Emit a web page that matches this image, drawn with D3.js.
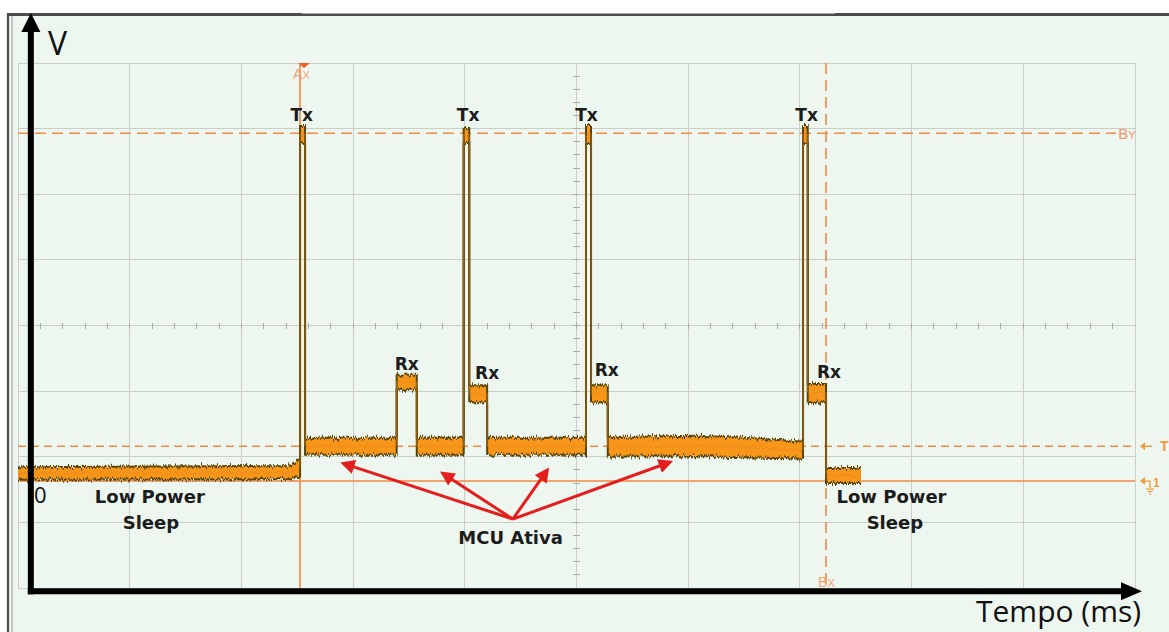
<!DOCTYPE html>
<html><head><meta charset="utf-8">
<script src="https://cdn.jsdelivr.net/npm/d3@7"></script>
<style>html,body{margin:0;padding:0;background:#fff;overflow:hidden}</style>
</head><body><svg id="c" width="1169" height="632"></svg>
<script>
// ---------- data (time in screen divisions, voltage in screen divisions) ----------
const timeDivs = [0,1,2,3,4,5,6,7,8,9,10];
const voltDivs = [-4,-3,-2,-1,0,1,2,3,4];
// measured trace envelope (upper / lower edge of the noisy band)
const traceTime = [0, 2.44, 2.52, 2.525, 2.525, 2.57, 2.57, 3.39, 3.39, 3.57, 3.57, 3.99, 3.99, 4.04, 4.04, 4.20, 4.20, 5.085, 5.085, 5.13, 5.13, 5.28, 5.28, 6.10, 6.60, 7.028, 7.028, 7.07, 7.07, 7.234, 7.234, 7.547];
const traceHigh = [-2.16, -2.14, -2.05, -2.05, 3.04, 3.04, -1.71, -1.71, -0.75, -0.75, -1.71, -1.71, 3.01, 3.01, -0.91, -0.91, -1.71, -1.71, 3.04, 3.04, -0.91, -0.91, -1.70, -1.68, -1.72, -1.77, 3.04, 3.04, -0.89, -0.89, -2.17, -2.17];
const traceLow  = [-2.35, -2.34, -2.30, -2.30, 2.78, 2.78, -1.97, -1.97, -0.98, -0.98, -1.97, -1.97, 2.78, 2.78, -1.17, -1.17, -1.97, -1.97, 2.78, 2.78, -1.17, -1.17, -2.00, -1.99, -2.01, -2.03, 2.78, 2.78, -1.17, -1.17, -2.40, -2.40];
// cursors
const cursorAx = 2.525, cursorBx = 7.234, cursorBy = 2.93, triggerLevel = -1.84, groundLevel = -2.37;
// labels
const txNames = ["Tx","Tx","Tx","Tx"];
const txTime  = [2.54, 4.03, 5.09, 7.06];
const txVolt  = [3.115, 3.115, 3.115, 3.115];
const rxNames = ["Rx","Rx","Rx","Rx"];
const rxTime  = [3.48, 4.20, 5.27, 7.26];
const rxVolt  = [-0.68, -0.815, -0.77, -0.80];
const stateNames = ["Low Power", "Sleep", "Low Power", "Sleep", "MCU Ativa"];
const stateTime  = [1.18, 1.19, 7.82, 7.85, 4.41];
const stateVolt  = [-2.705, -3.10, -2.705, -3.10, -3.33];
// arrows from "MCU Ativa" to the active segments
const arrowFrom = [4.43, -2.95];
const arrowToTime = [2.91, 3.80, 4.74, 5.84];
const arrowToVolt = [-2.10, -2.25, -2.20, -2.08];

// ---------- drawing ----------
const W = 1169, H = 632;
const svg = d3.select('#c');
const x = d3.scaleLinear().domain([0, 10]).range([18, 1135]);
const y = d3.scaleLinear().domain([-4, 4]).range([588, 63]);

const defs = svg.append('defs');
const f = defs.append('filter').attr('id','jag').attr('filterUnits','userSpaceOnUse')
  .attr('x',0).attr('y',0).attr('width',W).attr('height',H).attr('color-interpolation-filters','sRGB');
f.append('feTurbulence').attr('type','fractalNoise').attr('baseFrequency','0.8 0.06').attr('numOctaves',2).attr('seed',7).attr('result','turb');
const ct = f.append('feComponentTransfer').attr('in','turb').attr('result','map');
ct.append('feFuncR').attr('type','linear').attr('slope',0).attr('intercept',0.5);
ct.append('feFuncA').attr('type','linear').attr('slope',0).attr('intercept',1);
f.append('feDisplacementMap').attr('in','SourceGraphic').attr('in2','map').attr('scale',8)
  .attr('xChannelSelector','R').attr('yChannelSelector','G');

defs.append('marker').attr('id','redhead').attr('viewBox','0 0 10 10').attr('refX',8).attr('refY',5)
  .attr('markerWidth',5.5).attr('markerHeight',4.8).attr('orient','auto').attr('markerUnits','strokeWidth')
  .append('path').attr('d','M0,0 L10,5 L0,10 z').attr('fill','#E41E1E');

// background & frame
svg.append('rect').attr('width',W).attr('height',H).attr('fill','#fff');
svg.append('rect').attr('x',8).attr('y',15).attr('width',W-8).attr('height',H-15).attr('fill','#EDF6EF');
svg.append('line').attr('x1',7).attr('x2',W).attr('y1',14.5).attr('y2',14.5).attr('stroke','#4d4d4d').attr('stroke-width',3);
svg.append('line').attr('x1',302).attr('x2',835).attr('y1',13.5).attr('y2',13.5).attr('stroke','#a9a9a9').attr('stroke-width',1.2);
svg.append('line').attr('x1',8).attr('x2',8).attr('y1',13).attr('y2',H).attr('stroke','#4d4d4d').attr('stroke-width',2.2);
svg.append('line').attr('x1',12).attr('x2',12).attr('y1',16).attr('y2',H).attr('stroke','#9a9a9a').attr('stroke-width',1);

// graticule
const grid = svg.append('g').attr('stroke','#C9CEC9').attr('stroke-width',1).attr('shape-rendering','crispEdges');
grid.selectAll('.gv').data(timeDivs).join('line').attr('class','gv')
  .attr('x1',d=>x(d)).attr('x2',d=>x(d)).attr('y1',y(4)).attr('y2',y(-4));
grid.selectAll('.gh').data(voltDivs).join('line').attr('class','gh')
  .attr('x1',x(0)).attr('x2',x(10)).attr('y1',d=>y(d)).attr('y2',d=>y(d));
const minorT = d3.range(1, 50).map(i => i / 5);
const minorV = d3.range(-19, 20).map(i => i / 5);
grid.selectAll('.mt').data(minorT).join('line').attr('class','mt')
  .attr('x1',d=>x(d)).attr('x2',d=>x(d)).attr('y1',y(0)-2.5).attr('y2',y(0)+3).attr('stroke','#A8ADA9');
grid.selectAll('.mv').data(minorV).join('line').attr('class','mv')
  .attr('x1',x(5)-3.5).attr('x2',x(5)+3.5).attr('y1',d=>y(d)).attr('y2',d=>y(d)).attr('stroke','#A8ADA9');

// cursors
const cur = '#EE8A45';
const cg = svg.append('g').attr('fill','none');
cg.append('line').attr('x1',x(cursorAx)).attr('x2',x(cursorAx)).attr('y1',y(4)).attr('y2',y(-4)).attr('stroke',cur).attr('stroke-width',1.6);
cg.append('line').attr('x1',x(cursorBx)).attr('x2',x(cursorBx)).attr('y1',y(4)).attr('y2',y(-4)).attr('stroke',cur).attr('stroke-width',1.6).attr('stroke-dasharray','11,6');
cg.append('line').attr('x1',x(0)).attr('x2',x(9.83)).attr('y1',y(cursorBy)).attr('y2',y(cursorBy)).attr('stroke',cur).attr('stroke-width',1.6).attr('stroke-dasharray','11,6');
cg.append('line').attr('x1',x(0)).attr('x2',x(10)).attr('y1',y(triggerLevel)).attr('y2',y(triggerLevel)).attr('stroke',cur).attr('stroke-width',1.3).attr('stroke-dasharray','8,5');
cg.append('line').attr('x1',x(0)).attr('x2',x(10)).attr('y1',y(groundLevel)).attr('y2',y(groundLevel)).attr('stroke',cur).attr('stroke-width',1.6);
// cursor labels
svg.append('path').attr('d',`M${x(cursorAx)-2},${y(4)} L${x(cursorAx)+10},${y(4)} L${x(cursorAx)+4},${y(4)+5}z`).attr('fill','#F0602A');
const axl = svg.append('text').attr('x',x(cursorAx)-7).attr('y',y(4)+16).attr('fill','#F2A27A').attr('font-family','Liberation Sans, Arial, sans-serif').attr('font-size',14);
axl.append('tspan').text('A'); axl.append('tspan').text('X').attr('font-size',11);
const bxl = svg.append('text').attr('x',x(cursorBx)-8).attr('y',y(-4)-1).attr('fill','#F2A27A').attr('font-family','Liberation Sans, Arial, sans-serif').attr('font-size',14);
bxl.append('tspan').text('B'); bxl.append('tspan').text('X').attr('font-size',11);
const by = svg.append('text').attr('x',x(9.85)).attr('y',y(cursorBy)+6).attr('fill','#F0946A').attr('font-family','Liberation Sans, Arial, sans-serif').attr('font-size',15);
by.append('tspan').text('B'); by.append('tspan').text('Y').attr('font-size',11);
// right-side markers
const rm = svg.append('g').attr('stroke','#F29A3C').attr('fill','#F29A3C');
rm.append('line').attr('x1',1142).attr('x2',1152).attr('y1',y(triggerLevel)).attr('y2',y(triggerLevel)).attr('stroke-width',1.5);
rm.append('path').attr('d',`M1140,${y(triggerLevel)} l5,-4 l0,8z`).attr('stroke','none');
svg.append('text').attr('x',1160).attr('y',y(triggerLevel)+5).text('T').attr('fill','#F29A3C').attr('font-family','Liberation Sans, Arial, sans-serif').attr('font-size',14).attr('font-weight','bold');
rm.append('path').attr('d',`M1140,${y(groundLevel)} l5,-4 l0,8z`).attr('stroke','none');
rm.append('path').attr('d',`M1144,${y(groundLevel)} L1150,${y(groundLevel)} L1150,${y(groundLevel)+7}`).attr('fill','none').attr('stroke-width',1.3);
rm.append('path').attr('d',`M1146,${y(groundLevel)+8} h8 M1147.5,${y(groundLevel)+10.5} h5 M1149,${y(groundLevel)+13} h2`).attr('fill','none').attr('stroke-width',1.2);
svg.append('text').attr('x',1153).attr('y',y(groundLevel)+6).text('1').attr('fill','#F29A3C').attr('font-family','Liberation Sans, Arial, sans-serif').attr('font-size',12).attr('font-weight','bold');

// trace
const pts = traceTime.map((t,i)=>({t, hi:traceHigh[i], lo:traceLow[i]}));
const tg = svg.append('g').attr('filter','url(#jag)');
tg.append('path').datum(pts).attr('d', d3.area().x(d=>x(d.t)).y0(d=>y(d.lo)).y1(d=>y(d.hi)))
  .attr('fill','#F8961A');
const edge = '#544408';
tg.append('path').datum(pts).attr('d', d3.line().x(d=>x(d.t)).y(d=>y(d.hi))).attr('fill','none').attr('stroke',edge).attr('stroke-width',2);
tg.append('path').datum(pts).attr('d', d3.line().x(d=>x(d.t)).y(d=>y(d.lo))).attr('fill','none').attr('stroke',edge).attr('stroke-width',2);
// mid streak inside bands
tg.append('path').datum(pts).attr('d', d3.line().x(d=>x(d.t)).y(d=>y((d.hi+d.lo)/2))).attr('fill','none').attr('stroke','#E0801A').attr('stroke-width',1).attr('opacity',0.6);

// labels
const lab = svg.append('g').attr('font-family','DejaVu Sans, Verdana, sans-serif').attr('font-weight','bold').attr('fill','#1c1c1c').attr('text-anchor','middle');
lab.selectAll('.tx').data(txNames).join('text').attr('class','tx').attr('x',(d,i)=>x(txTime[i])).attr('y',(d,i)=>y(txVolt[i])).attr('font-size',17).text(d=>d);
lab.selectAll('.rx').data(rxNames).join('text').attr('class','rx').attr('x',(d,i)=>x(rxTime[i])).attr('y',(d,i)=>y(rxVolt[i])).attr('font-size',17).text(d=>d);
lab.selectAll('.st').data(stateNames).join('text').attr('class','st').attr('x',(d,i)=>x(stateTime[i])).attr('y',(d,i)=>y(stateVolt[i])).attr('font-size',18).text(d=>d);

// red arrows
svg.append('g').selectAll('line').data(arrowToTime).join('line')
  .attr('x1',x(arrowFrom[0])).attr('y1',y(arrowFrom[1]))
  .attr('x2',(d)=>x(d)).attr('y2',(d,i)=>y(arrowToVolt[i]))
  .attr('stroke','#E41E1E').attr('stroke-width',3).attr('marker-end','url(#redhead)');

// black axes (arrows)
const ax0 = x(0.115), ay0 = y(-4.05);
svg.append('line').attr('x1',ax0).attr('x2',ax0).attr('y1',ay0+3).attr('y2',30).attr('stroke','#000').attr('stroke-width',6);
svg.append('path').attr('d',`M${ax0},13 L${ax0+9.5},32 L${ax0-9.5},32z`).attr('fill','#000');
svg.append('line').attr('x1',ax0-3).attr('x2',1124).attr('y1',ay0).attr('y2',ay0).attr('stroke','#000').attr('stroke-width',6);
svg.append('path').attr('d',`M1142,${ay0} L1121,${ay0-9} L1121,${ay0+9}z`).attr('fill','#000');

// axis texts
const ff = 'Open Sans, Noto Sans, sans-serif';
svg.append('text').attr('x',48).attr('y',55).text('V').attr('font-family',ff).attr('font-size',32).attr('fill','#111');
svg.append('text').attr('x',34).attr('y',503).text('0').attr('font-family',ff).attr('font-size',22).attr('fill','#111');
svg.append('text').attr('x',976).attr('y',622).text('Tempo (ms)').attr('font-family',ff).attr('font-size',30).attr('fill','#111');
</script></body></html>
